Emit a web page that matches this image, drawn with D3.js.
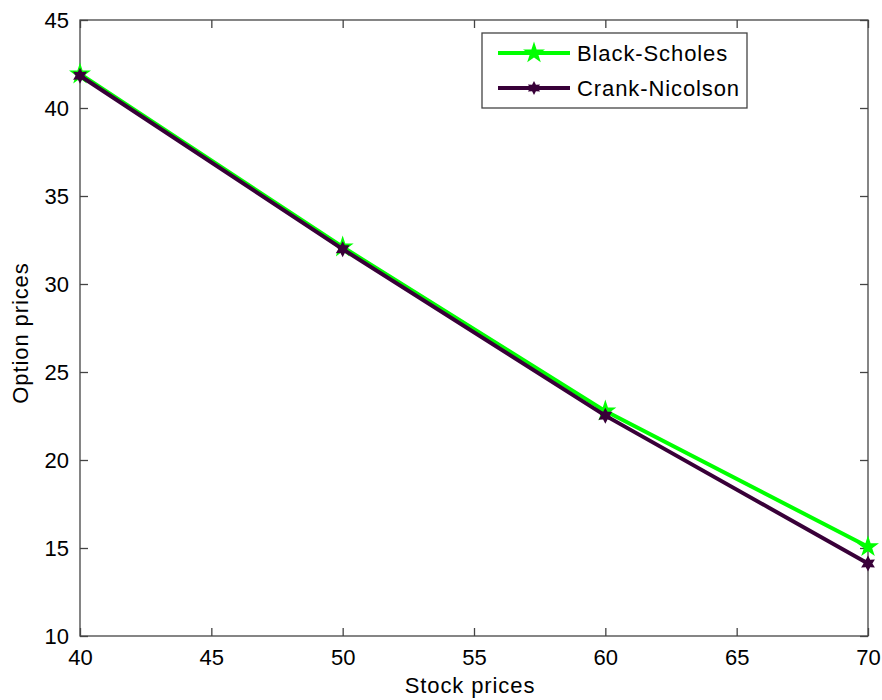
<!DOCTYPE html>
<html><head><meta charset="utf-8">
<script src="https://cdn.jsdelivr.net/npm/d3@7"></script>
<style>body{margin:0;background:#fff}svg{display:block}text{font-family:"Liberation Sans",Arial,sans-serif;fill:#000}</style>
</head><body><svg id="c" width="882" height="700"></svg>
<script>
const stockPrices = [40, 50, 60, 70];
const blackScholes = [41.93, 32.1, 22.78, 15.07];
const crankNicolson = [41.83, 31.98, 22.52, 14.12];
const xTicks = [40, 45, 50, 55, 60, 65, 70];
const yTicks = [10, 15, 20, 25, 30, 35, 40, 45];
const seriesNames = ["Black-Scholes", "Crank-Nicolson"];
const colors = ["#00ff00", "#380038"];

const svg = d3.select("#c");
const L = 80, R = 868, T = 20, B = 636;
const x = d3.scaleLinear().domain([40, 70]).range([L, R]);
const y = d3.scaleLinear().domain([10, 45]).range([B, T]);
const fs = 22;

svg.append("rect").attr("x", L).attr("y", T).attr("width", R - L).attr("height", B - T)
  .attr("fill", "#fff").attr("stroke", "#444").attr("stroke-width", 1.3);

const tl = 8;
const gx = svg.append("g").attr("transform", `translate(0,${B})`)
  .call(d3.axisBottom(x).tickValues(xTicks).tickSizeInner(-tl).tickSizeOuter(0).tickPadding(13));
const gxt = svg.append("g").attr("transform", `translate(0,${T})`)
  .call(d3.axisTop(x).tickValues(xTicks).tickSizeInner(-tl).tickSizeOuter(0).tickFormat(""));
const gy = svg.append("g").attr("transform", `translate(${L},0)`)
  .call(d3.axisLeft(y).tickValues(yTicks).tickSizeInner(-tl).tickSizeOuter(0).tickPadding(11));
const gyr = svg.append("g").attr("transform", `translate(${R},0)`)
  .call(d3.axisRight(y).tickValues(yTicks).tickSizeInner(-tl).tickSizeOuter(0).tickFormat(""));
[gx, gxt, gy, gyr].forEach(g => {
  g.select(".domain").remove();
  g.selectAll("line").attr("stroke", "#444").attr("stroke-width", 1.3);
  g.selectAll("text").attr("font-size", fs).attr("font-family", "Liberation Sans, Arial, sans-serif").attr("fill", "#000");
});

const line = d3.line().x((d, i) => x(stockPrices[i])).y(d => y(d));
const star5 = d3.symbol().type(d3.symbolStar).size(150);
function hexagram(r) {
  const pts = [];
  for (let i = 0; i < 12; i++) {
    const a = -Math.PI / 2 + i * Math.PI / 6;
    const rr = i % 2 === 0 ? r : r * 0.55;
    pts.push([rr * Math.cos(a), rr * Math.sin(a)]);
  }
  return "M" + pts.map(p => p.join(",")).join("L") + "Z";
}
const series = [blackScholes, crankNicolson];
series.forEach((vals, k) => {
  svg.append("path").datum(vals).attr("d", line).attr("fill", "none")
    .attr("stroke", colors[k]).attr("stroke-width", 4);
  svg.selectAll(null).data(vals).enter().append("path")
    .attr("transform", (d, i) => `translate(${x(stockPrices[i])},${y(d)})`)
    .attr("d", k === 0 ? star5() : hexagram(8))
    .attr("fill", colors[k]);
});

// legend
const lg = svg.append("g");
lg.append("rect").attr("x", 482).attr("y", 33).attr("width", 265).attr("height", 75)
  .attr("fill", "#fff").attr("stroke", "#444").attr("stroke-width", 1.3);
seriesNames.forEach((n, k) => {
  const yy = 53 + k * 35;
  lg.append("line").attr("x1", 498).attr("x2", 570).attr("y1", yy).attr("y2", yy)
    .attr("stroke", colors[k]).attr("stroke-width", 4);
  lg.append("path").attr("transform", `translate(534,${yy})`)
    .attr("d", k === 0 ? star5() : hexagram(7)).attr("fill", colors[k]);
  lg.append("text").attr("x", 577).attr("y", yy).attr("dy", "0.36em").attr("font-size", fs)
    .attr("letter-spacing", 0.9).text(n);
});

svg.append("text").attr("x", (L + R) / 2 - 4).attr("y", 693).attr("text-anchor", "middle")
  .attr("font-size", fs).attr("letter-spacing", 0.9).text("Stock prices");
svg.append("text").attr("transform", `translate(28,${(T + B) / 2 + 5}) rotate(-90)`)
  .attr("text-anchor", "middle").attr("font-size", fs).attr("letter-spacing", 0.9).text("Option prices");
</script></body></html>
